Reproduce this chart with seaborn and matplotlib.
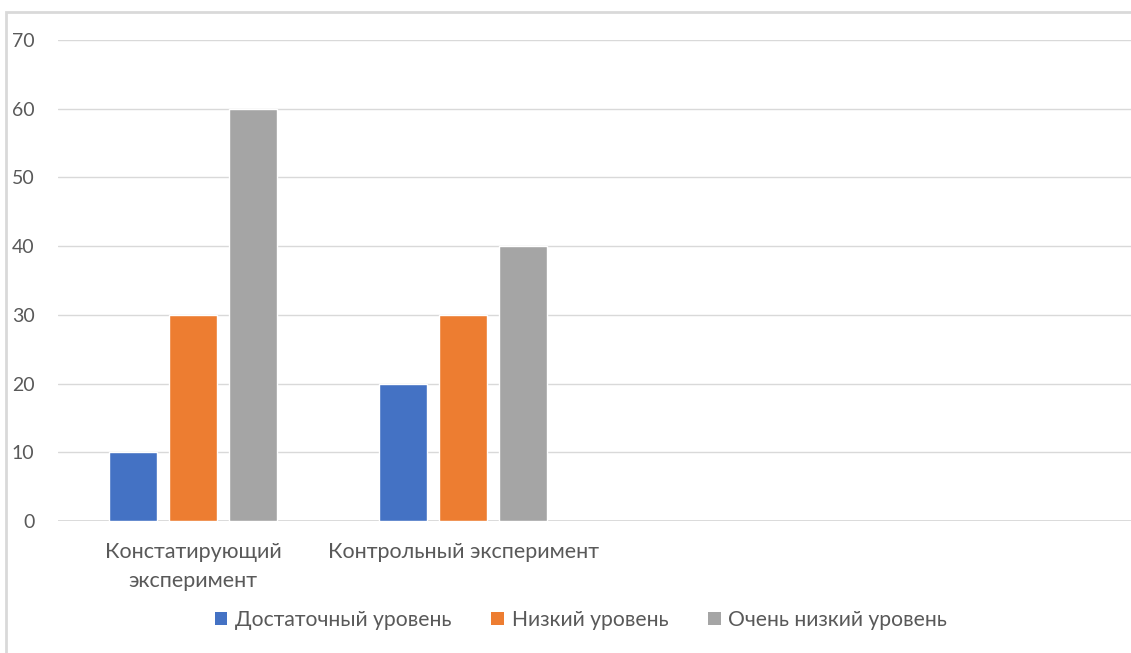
import matplotlib
matplotlib.use("Agg")
import matplotlib.pyplot as plt
from matplotlib.patches import Rectangle, Patch
import seaborn as sns
import pandas as pd

# Categories and series values
categories = ["Констатирующий\nэксперимент", "Контрольный эксперимент"]
levels = ["Достаточный уровень", "Низкий уровень", "Очень низкий уровень"]
dostatochny = [10, 20]
nizkiy = [30, 30]
ochen_nizkiy = [60, 40]
y_ticks = [0, 10, 20, 30, 40, 50, 60, 70]
colors = ["#4472C4", "#ED7D31", "#A5A5A5"]

rows = []
for lvl, vals in zip(levels, [dostatochny, nizkiy, ochen_nizkiy]):
    for cat, v in zip(categories, vals):
        rows.append({"category": cat, "level": lvl, "value": v})
df = pd.DataFrame(rows)

sns.set_theme(style="white")
plt.rcParams["font.family"] = ["Lato", "DejaVu Sans"]

W, H = 1131, 653
fig = plt.figure(figsize=(W / 100, H / 100), dpi=100)
ax = fig.add_axes([58 / W, 1 - 521 / H, 1080 / W, 481 / H])

sns.barplot(data=df, x="category", y="value", hue="level", order=categories,
            hue_order=levels, palette=colors, saturation=1, width=0.667,
            gap=0.2, legend=False, ax=ax)

ax.set_xlim(-0.5, 3.5)
ax.set_ylim(0, 70)
ax.set_yticks(y_ticks)
ax.set_xlabel("")
ax.set_ylabel("")
ax.set_axisbelow(True)
ax.yaxis.grid(True, color="#D9D9D9", linewidth=1)
for s in ax.spines.values():
    s.set_visible(False)
ax.axhline(0, color="#D9D9D9", linewidth=1.3, zorder=0.5)

ax.tick_params(axis="y", length=0, pad=17, labelsize=14, labelcolor="#595959")
ax.tick_params(axis="x", length=0, pad=15, labelsize=15.5, labelcolor="#595959")
for lab in ax.get_yticklabels():
    lab.set_horizontalalignment("right")
for lab in ax.get_xticklabels():
    lab.set_linespacing(1.6)
    lab.set_verticalalignment("top")

handles = [Patch(facecolor=c, edgecolor="none") for c in colors]
fig.legend(handles, levels, loc="center", bbox_to_anchor=(581 / W, 1 - 620 / H),
           ncol=3, frameon=False, fontsize=15.2, labelcolor="#595959",
           handlelength=0.6, handleheight=0.6, handletextpad=0.35,
           columnspacing=1.9)

# Outer chart frame
fig.patches.append(Rectangle((6 / W, -0.1), 2, 1 - 12 / H + 0.1,
                             transform=fig.transFigure, fill=False,
                             edgecolor="#D9D9D9", linewidth=2))

fig.savefig("out.png", dpi=100)
